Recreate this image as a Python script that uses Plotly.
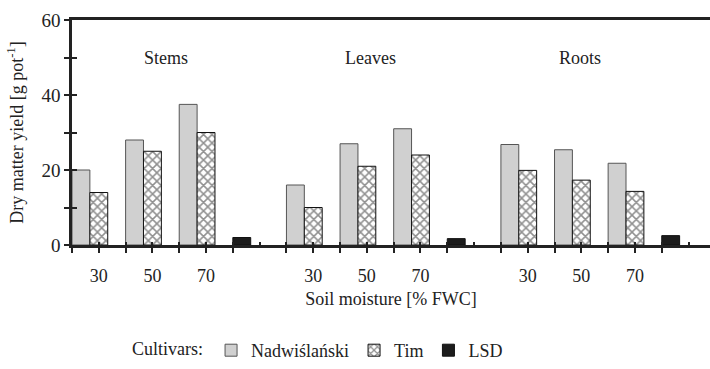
import plotly.graph_objects as go

organs = ["Stems", "Leaves", "Roots"]
moisture = ["30", "50", "70"]
nadw = [20.0, 28.0, 37.5, 16.0, 27.0, 31.0, 26.8, 25.4, 21.8]
tim = [14.0, 25.0, 30.0, 10.0, 21.0, 24.0, 19.9, 17.3, 14.3]
lsd = [2.0, 1.7, 2.5]

FONT = "Liberation Serif"
INK = "#222222"

def f(size=18):
    return dict(family=FONT, size=size, color=INK)

# category slot index: each organ has 3 moisture slots + 1 LSD slot
pos = [g * 4 + m for g in range(len(organs)) for m in range(len(moisture))]
lsd_pos = [g * 4 + 3 for g in range(len(organs))]
label_pos = [p + 0.5 for p in pos]
label_txt = [moisture[m] for g in range(len(organs)) for m in range(len(moisture))]
xmax = 11.9

fig = go.Figure()
fig.add_trace(go.Bar(
    x=pos, y=nadw, name="Nadwiślański", width=1/3, offset=0,
    marker=dict(color="#d0d0d0", line=dict(color="#555555", width=1)),
))
fig.add_trace(go.Bar(
    x=pos, y=tim, name="Tim", width=1/3, offset=1/3,
    marker=dict(color="white", line=dict(color="#111111", width=1),
                pattern=dict(shape="x", size=6, solidity=0.45, fgcolor="#222222", bgcolor="white")),
))
fig.add_trace(go.Bar(
    x=lsd_pos, y=lsd, name="LSD", width=1/3, offset=0,
    marker=dict(color="#1c1c1c", line=dict(color="#111111", width=1)),
))

# organ labels
organ_x = [1.75, 5.56, 9.48]
for name, xv in zip(organs, organ_x):
    fig.add_annotation(x=xv, y=50, text=name, showarrow=False, font=f(18))

half_ticks = [i * 0.5 for i in range(0, 24)]

fig.update_layout(
    width=710, height=369,
    margin=dict(l=72, r=0, t=20, b=122),
    paper_bgcolor="white", plot_bgcolor="white",
    barmode="overlay",
    font=f(18),
    xaxis=dict(
        range=[0, xmax], tickmode="array", tickvals=label_pos, ticktext=label_txt,
        ticks="outside", ticklen=5, tickwidth=2, tickcolor=INK,
        minor=dict(tickmode="array", tickvals=[float(i) for i in range(12)],
                   ticks="outside", ticklen=5, tickwidth=2, tickcolor=INK),
        showline=True, linewidth=2.5, linecolor=INK, mirror=True,
        showgrid=False, zeroline=False,
        ticklabelstandoff=8,
        title=dict(text="Soil moisture [% FWC]", font=f(18), standoff=8),
        tickfont=f(18),
    ),
    xaxis2=dict(
        overlaying="x", anchor="y", side="bottom", range=[0, xmax],
        tickmode="array", tickvals=half_ticks, ticks="inside", ticklen=3,
        tickwidth=2, tickcolor=INK, showticklabels=False,
        showline=False, showgrid=False, zeroline=False,
    ),
    yaxis=dict(
        range=[0, 60], tickmode="array", tickvals=[0, 20, 40, 60],
        ticks="outside", ticklen=5, tickwidth=2, tickcolor=INK,
        minor=dict(tickmode="array", tickvals=[10, 30, 50], ticks="outside",
                   ticklen=5, tickwidth=2, tickcolor=INK),
        showline=True, linewidth=2.5, linecolor=INK,
        showgrid=False, zeroline=False,
        title=dict(text="Dry matter yield [g pot<sup>-1</sup>]", font=f(18), standoff=14),
        tickfont=f(19),
    ),
    yaxis2=dict(
        overlaying="y", anchor="x", side="left", range=[0, 60],
        tickmode="array", tickvals=[0, 10, 20, 30, 40, 50, 60], ticks="inside",
        ticklen=5, tickwidth=2, tickcolor=INK, showticklabels=False,
        showline=False, showgrid=False, zeroline=False,
    ),
    legend=dict(
        orientation="h", x=0.091, xanchor="left", y=-0.47, yanchor="middle",
        title=dict(text="Cultivars:", side="left", font=f(18)),
        font=f(18), itemwidth=30, traceorder="normal",
        bgcolor="rgba(0,0,0,0)",
    ),
    showlegend=True,
)

# invisible trace so the overlay axes are drawn
fig.add_trace(go.Scatter(x=[0], y=[0], xaxis="x2", yaxis="y2", mode="markers",
                         marker=dict(opacity=0), showlegend=False, hoverinfo="skip"))

fig.write_html("out.html")
